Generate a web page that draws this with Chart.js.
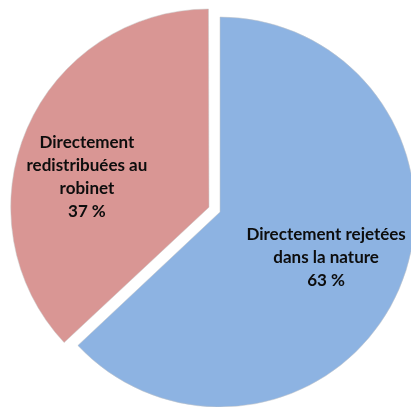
<!DOCTYPE html>
<html>
<head>
<meta charset="utf-8">
<script src="https://cdn.jsdelivr.net/npm/chart.js@4"></script>
<style>
  body { margin: 0; background: #fff; }
</style>
</head>
<body>
<canvas id="pie" width="411" height="407"></canvas>
<script>
const categories = [
    ['Directement rejetées', 'dans la nature'],
    ['Directement', 'redistribuées au', 'robinet']
];
const values = [63, 37];
const colors = ['#8db3e2', '#d99694'];

// labels drawn inside the slices, position given as fraction of radius + angle tweak
const sliceLabels = {
    id: 'sliceLabels',
    afterDatasetsDraw(chart, args, opts) {
        const ctx = chart.ctx;
        const meta = chart.getDatasetMeta(0);
        ctx.save();
        ctx.font = 'bold 17px Lato, "Open Sans", sans-serif';
        ctx.fillStyle = '#0d0d0d';
        ctx.textAlign = 'center';
        ctx.textBaseline = 'middle';
        meta.data.forEach(function(arc, i) {
            const p = arc.getProps(['x', 'y', 'startAngle', 'endAngle', 'outerRadius', 'circumference']);
            const mid = (p.startAngle + p.endAngle) / 2;
            // chart.js scales the offset the same way when drawing the arc
            const fix = 1 - Math.sin(Math.min(Math.PI, p.circumference || 0));
            const off = (chart.data.datasets[0].offset[i] || 0) * fix;
            const cx = p.x + Math.cos(mid) * off;
            const cy = p.y + Math.sin(mid) * off;
            const a = mid + (opts.shift[i] || 0) * Math.PI / 180;
            const r = p.outerRadius * opts.dist[i];
            const lx = cx + Math.cos(a) * r;
            const ly = cy + Math.sin(a) * r;
            const lines = categories[i].concat([values[i] + ' %']);
            const lh = 23;
            lines.forEach(function(t, k) {
                ctx.fillText(t, lx, ly + (k - (lines.length - 1) / 2) * lh);
            });
        });
        ctx.restore();
    }
};

new Chart(document.getElementById('pie').getContext('2d'), {
    type: 'pie',
    data: {
        labels: categories.map(function(c) { return c.join(' '); }),
        datasets: [{
            data: values,
            backgroundColor: colors,
            borderWidth: 1,
            borderColor: 'rgba(200,200,200,0.5)',
            offset: [0, 48],
            clip: false
        }]
    },
    options: {
        responsive: false,
        animation: false,
        radius: 195,
        layout: { padding: { left: 29, top: 17, right: 0, bottom: 0 } },
        plugins: {
            legend: { display: false },
            tooltip: { enabled: false },
            sliceLabels: { dist: [0.593, 0.64], shift: [0, -9.5] }
        }
    },
    plugins: [sliceLabels]
});
</script>
</body>
</html>
